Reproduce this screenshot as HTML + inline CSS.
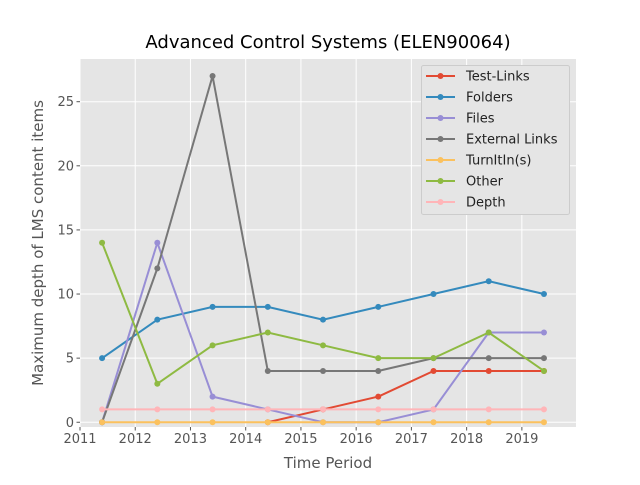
<!DOCTYPE html>
<html><head><meta charset="utf-8"><style>
body{margin:0;background:#fff;font-family:"Liberation Sans","DejaVu Sans",sans-serif}
</style></head><body>
<svg id="c" width="640" height="480" xmlns="http://www.w3.org/2000/svg" font-family="DejaVu Sans, Liberation Sans, sans-serif"></svg>
<script>
const years=[2011.4,2012.4,2013.4,2014.4,2015.4,2016.4,2017.4,2018.4,2019.4];
const testLinks=[null,null,null,0,1,2,4,4,4];
const folders=[5,8,9,9,8,9,10,11,10];
const files=[0,14,2,1,0,0,1,7,7];
const externalLinks=[0,12,27,4,4,4,5,5,5];
const turnitin=[0,0,0,0,0,0,0,0,0];
const other=[14,3,6,7,6,5,5,7,4];
const depth=[1,1,1,1,1,1,1,1,1];
const xTicks=[2011,2012,2013,2014,2015,2016,2017,2018,2019];
const yTicks=[0,5,10,15,20,25];
const seriesNames=["Test-Links","Folders","Files","External Links","TurnItIn(s)","Other","Depth"];
const seriesData=[testLinks,folders,files,externalLinks,turnitin,other,depth];
const colors=["#E24A33","#348ABD","#988ED5","#777777","#FBC15E","#8EBA42","#FFB5B8"];
const L=80,R=576,T=59,B=427,X0=2011,X1=2019.98,Y0=-0.37,Y1=28.33;
const sx=v=>L+(v-X0)/(X1-X0)*(R-L);
const sy=v=>B-(v-Y0)/(Y1-Y0)*(B-T);
const svg=document.getElementById('c');
const NS="http://www.w3.org/2000/svg";
function mk(t,a,p){const e=document.createElementNS(NS,t);for(const k in a)e.setAttribute(k,a[k]);(p||svg).appendChild(e);return e;}
let bg=mk('rect',{x:L,y:T,width:R-L,height:B-T,fill:'#E5E5E5'});


xTicks.forEach(t=>{const x=sx(t);
 let g=mk('line',{x1:x,x2:x,y1:T,y2:B,stroke:'#fff','stroke-width':1});
 
 mk('line',{x1:x,x2:x,y1:B,y2:B+3.5,stroke:'#555'});
 let tx=mk('text',{x:x,y:B+16,'text-anchor':'middle','font-size':13,fill:'#555'});tx.textContent=t;
 
});
yTicks.forEach(t=>{const y=sy(t);
 let g=mk('line',{x1:L,x2:R,y1:y,y2:y,stroke:'#fff','stroke-width':1});
 
 mk('line',{x1:L-3.5,x2:L,y1:y,y2:y,stroke:'#555'});
 let tx=mk('text',{x:L-6,y:y+4.5,'text-anchor':'end','font-size':13,fill:'#555'});tx.textContent=t;
 
});
seriesData.forEach((d,i)=>{
 const g=mk('g',{});
 
 
 let pts=[];d.forEach((v,j)=>{if(v!==null)pts.push([sx(years[j]),sy(v)]);});
 mk('polyline',{points:pts.map(p=>p.join(',')).join(' '),fill:'none',stroke:colors[i],'stroke-width':2},g);
 pts.forEach(p=>{const c=mk('circle',{cx:p[0],cy:p[1],r:3,fill:colors[i]},g);
  });
});
const lg=mk('g',{});


mk('rect',{x:421.5,y:65.5,width:148,height:149,fill:'#E5E5E5',stroke:'#ccc',rx:2},lg);
seriesNames.forEach((n,i)=>{const y=76+i*21;
 const e=mk('g',{},lg);
 
 
 mk('line',{x1:426,x2:455,y1:y,y2:y,stroke:colors[i],'stroke-width':2},e);
 mk('circle',{cx:440.5,cy:y,r:3,fill:colors[i]},e);
 const t=mk('text',{x:466,y:y+4.5,'font-size':13,fill:'#222'},e);t.textContent=n;
});
let ti=mk('text',{x:328,y:48,'text-anchor':'middle','font-size':18,fill:'#000'});ti.textContent='Advanced Control Systems (ELEN90064)';

let xl=mk('text',{x:328,y:468,'text-anchor':'middle','font-size':15,fill:'#555'});xl.textContent='Time Period';

let yl=mk('text',{x:0,y:0,'text-anchor':'middle','font-size':15,fill:'#555',transform:'translate(43,243) rotate(-90)'});yl.textContent='Maximum depth of LMS content items';

</script>
</body></html>
